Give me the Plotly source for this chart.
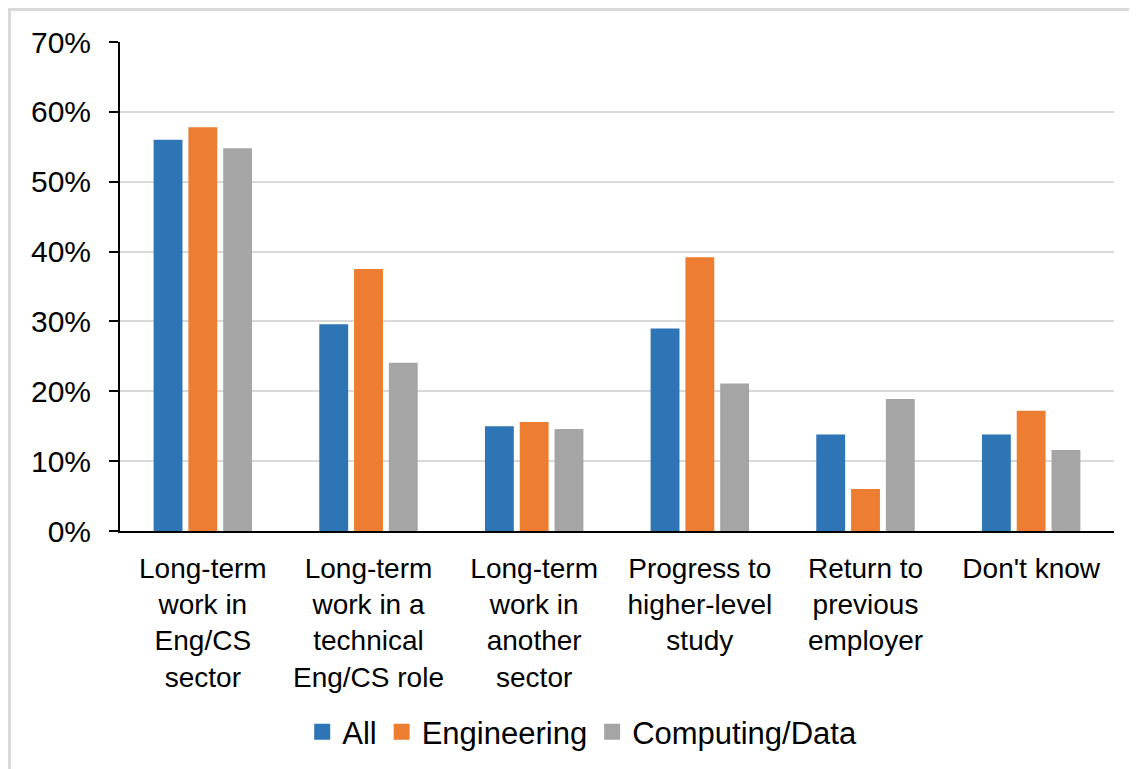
import plotly.graph_objects as go

categories = [
    "Long-term<br>work in<br>Eng/CS<br>sector",
    "Long-term<br>work in a<br>technical<br>Eng/CS role",
    "Long-term<br>work in<br>another<br>sector",
    "Progress to<br>higher-level<br>study",
    "Return to<br>previous<br>employer",
    "Don't know",
]
all_values = [0.560, 0.296, 0.150, 0.290, 0.138, 0.138]
eng_values = [0.578, 0.375, 0.156, 0.392, 0.060, 0.172]
comp_values = [0.548, 0.241, 0.146, 0.211, 0.189, 0.116]

series_names = ["All", "Engineering", "Computing/Data"]
series_colors = ["#2E75B6", "#ED7D31", "#A5A5A5"]

# page body adds an 8px margin around the figure div
OFF = 8
W, H = 1137 - OFF, 769 - OFF
plot_left, plot_right, plot_top, plot_bottom = 120, 1114, 42, 532
L = plot_left - OFF
T = plot_top - OFF
R = OFF + W - plot_right
B = OFF + H - plot_bottom
plot_w = plot_right - plot_left
plot_h = plot_bottom - plot_top

FONT = "Liberation Sans, Arial, sans-serif"

fig = go.Figure()
for name, vals, color in zip(series_names, [all_values, eng_values, comp_values], series_colors):
    fig.add_trace(go.Bar(
        x=categories, y=vals, name=name,
        marker=dict(color=color, line=dict(width=0)),
        showlegend=False,
    ))
    # legend entry with a bigger square swatch
    fig.add_trace(go.Scatter(
        x=[None], y=[None], mode="markers", name=name,
        marker=dict(symbol="square", size=17, color=color),
    ))


def px_x(p):
    return (p - plot_left) / plot_w


def px_y(p):
    return (plot_bottom - p) / plot_h


fig.update_layout(
    width=W, height=H,
    margin=dict(l=L, r=R, t=T, b=B),
    paper_bgcolor="white", plot_bgcolor="white",
    barmode="group", bargap=0.37, bargroupgap=0.17,
    font=dict(family=FONT, color="black"),
    legend=dict(
        orientation="h", x=0.465, xanchor="center", y=px_y(732), yanchor="middle",
        font=dict(size=31, color="black"), itemsizing="trace",
    ),
    # light grey frame round the chart, running off the right and bottom edges
    shapes=[dict(
        type="rect", xref="paper", yref="paper",
        x0=px_x(OFF + 1.5), x1=px_x(1145), y0=px_y(780), y1=px_y(OFF + 1.5),
        line=dict(color="#D9D9D9", width=3), layer="below",
    )],
)
fig.update_yaxes(
    range=[0, 0.7], dtick=0.1, tickformat=".0%",
    showgrid=True, gridcolor="#D9D9D9", gridwidth=2,
    showline=True, linecolor="black", linewidth=2,
    ticks="outside", ticklen=9, tickwidth=2, tickcolor="black",
    tickfont=dict(size=30, color="black"), ticklabelstandoff=12,
    zeroline=False,
)
fig.update_xaxes(
    showline=True, linecolor="black", linewidth=2,
    ticks="", tickfont=dict(size=28, color="black"),
    ticklabelstandoff=11,
)

fig.write_html("out.html")
